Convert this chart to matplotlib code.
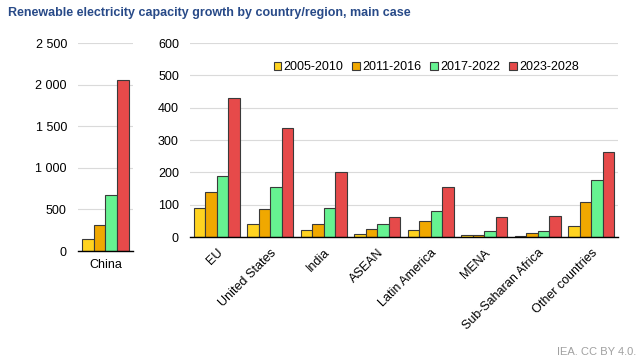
import matplotlib.pyplot as plt
import numpy as np

plt.rcParams['font.family'] = ['Liberation Sans', 'DejaVu Sans']

periods = ['2005-2010', '2011-2016', '2017-2022', '2023-2028']
colors = ['#FFD320', '#F0A800', '#66F291', '#E64A4A']

china = [140, 312, 678, 2060]

regions = ['EU', 'United States', 'India', 'ASEAN', 'Latin America',
           'MENA', 'Sub-Saharan Africa', 'Other countries']
p2005 = [90, 40, 22, 9, 22, 5, 3, 35]
p2011 = [139, 87, 39, 25, 50, 7, 12, 107]
p2017 = [190, 156, 91, 40, 81, 19, 19, 177]
p2023 = [429, 337, 202, 63, 155, 62, 65, 263]
series = [p2005, p2011, p2017, p2023]

fig = plt.figure(figsize=(6.43, 3.62), dpi=100)
ax1 = fig.add_axes([0.1213, 0.3066, 0.0855, 0.5744])
ax2 = fig.add_axes([0.2955, 0.3453, 0.6656, 0.5357])

w = 0.215
offs = (np.arange(4) - 1.5) * w

for i in range(4):
    ax1.bar(offs[i], china[i], w, color=colors[i], edgecolor='#3A3A3A',
            linewidth=0.8, zorder=3)
    ax2.bar(np.arange(len(regions)) + offs[i], series[i], w, color=colors[i],
            edgecolor='#3A3A3A', linewidth=0.8, zorder=3, label=periods[i])

for ax in (ax1, ax2):
    for s in ('top', 'right', 'left'):
        ax.spines[s].set_visible(False)
    ax.spines['bottom'].set_color('black')
    ax.spines['bottom'].set_linewidth(1)
    ax.spines['bottom'].set_zorder(4)
    ax.grid(axis='y', color='#DADADA', linewidth=0.8, zorder=0)
    ax.tick_params(axis='y', length=0, labelsize=9, pad=8)
    ax.tick_params(axis='x', labelsize=9)

ax1.set_xlim(-0.5, 0.5)
ax1.set_ylim(0, 2500)
ax1.set_yticks(range(0, 2501, 500))
ax1.set_yticklabels(['0', '500', '1 000', '1 500', '2 000', '2 500'])
ax1.set_xticks([0])
ax1.set_xticklabels(['China'])
ax1.tick_params(axis='x', length=0, pad=6)

ax2.set_xlim(-0.5, len(regions) - 0.5)
ax2.set_ylim(0, 600)
ax2.set_yticks(range(0, 601, 100))
ax2.set_xticks(np.arange(len(regions)))
ax2.set_xticklabels(regions, rotation=45, ha='right', rotation_mode='anchor')
ax2.tick_params(axis='x', length=0, pad=7)

ax2.legend(loc='center', bbox_to_anchor=(0.552, 0.876), ncol=4, frameon=False,
           fontsize=9, handlelength=0.6, handleheight=0.6, handletextpad=0.2,
           columnspacing=0.7, borderaxespad=0)

fig.text(0.012, 0.963, 'Renewable electricity capacity growth by country/region, main case',
         fontsize=9, fontweight='bold', color='#284A88', va='center')
fig.text(0.99, 0.02, 'IEA. CC BY 4.0.', fontsize=8, color='#A0A0A0', ha='right')

fig.savefig('out.png', dpi=100)
